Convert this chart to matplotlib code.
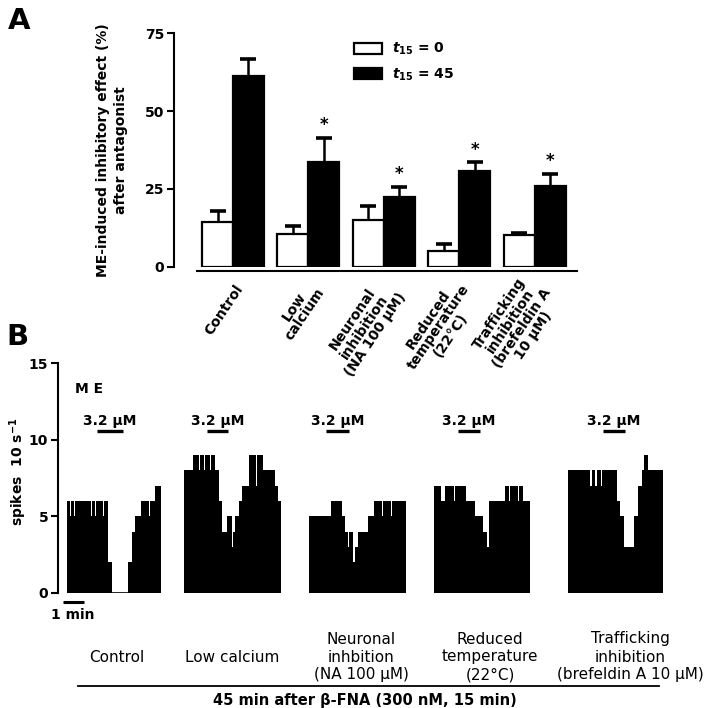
import matplotlib
matplotlib.use('Agg')
import matplotlib.pyplot as plt
from matplotlib.patches import Patch

W, H, DPI = 709, 708, 100
plt.rcParams['font.family'] = ['DejaVu Sans']
plt.rcParams['font.weight'] = 'bold'
plt.rcParams['mathtext.fontset'] = 'custom'
plt.rcParams['mathtext.rm'] = 'DejaVu Sans:bold'
plt.rcParams['mathtext.it'] = 'DejaVu Sans:bold:italic'
plt.rcParams['mathtext.bf'] = 'DejaVu Sans:bold'

# ---------------- Panel A data ----------------
conditions = ['Control', 'Low\ncalcium', 'Neuronal\ninhibition\n(NA 100 µM)',
              'Reduced\ntemperature\n(22°C)', 'Trafficking\ninhibition\n(brefeldin A\n10 µM)']
t0_mean = [14.5, 10.4, 15.0, 5.1, 10.1]
t0_sem = [3.4, 2.7, 4.6, 2.1, 0.8]
t45_mean = [61.3, 33.5, 22.3, 30.7, 25.9]
t45_sem = [5.3, 8.0, 3.3, 2.8, 4.0]
significant = [False, True, True, True, True]
series_labels = [r'$t_{\mathrm{15}}$ = 0', r'$t_{\mathrm{15}}$ = 45']
yticks_a = [0, 25, 50, 75]

# ---------------- Panel B data (spikes per 10 s, step traces) ----------------
trace_names = ['Control', 'Low calcium', 'Neuronal\ninhbition\n(NA 100 µM)',
               'Reduced\ntemperature\n(22°C)', 'Trafficking\ninhibition\n(brefeldin A 10 µM)']
control_edges = [0, 9, 12, 20, 23, 67, 70, 79, 82, 102, 105, 116, 127, 171, 181, 190, 207, 229, 232, 246, 261]
control_rate = [6, 5, 6, 5, 6, 5, 6, 5, 6, 5, 6, 2, 0, 2, 4, 5, 6, 5, 6, 7]
lowca_edges = [0, 25, 41, 44, 56, 59, 71, 74, 87, 97, 106, 119, 132, 135, 143, 152, 161, 180, 199, 202, 220, 252, 261, 269]
lowca_rate = [8, 9, 8, 9, 8, 9, 8, 9, 8, 6, 4, 5, 3, 4, 5, 6, 7, 9, 7, 9, 8, 7, 6]
neuro_edges = [0, 59, 90, 99, 107, 110, 122, 127, 134, 162, 181, 201, 204, 226, 229, 269]
neuro_rate = [5, 6, 5, 4, 3, 4, 2, 3, 4, 5, 6, 5, 6, 5, 6]
reduced_edges = [0, 20, 31, 56, 59, 87, 113, 136, 148, 151, 197, 207, 210, 233, 236, 247, 267]
reduced_rate = [7, 6, 7, 6, 7, 6, 5, 4, 3, 6, 7, 6, 7, 6, 7, 6]
traffic_edges = [0, 63, 66, 77, 80, 91, 94, 137, 145, 156, 185, 194, 205, 213, 222, 265]
traffic_rate = [8, 7, 8, 7, 8, 7, 8, 6, 5, 3, 5, 7, 8, 9, 8]
trace_start = [24, 350, 698, 1045, 1416]        # s, position on common time axis
drug_on = [85, 63, 47, 65, 97]                  # s after trace start
drug_off = [156, 123, 109, 128, 160]
drug_label = '3.2 µM'
yticks_b = [0, 5, 10, 15]

all_edges = [control_edges, lowca_edges, neuro_edges, reduced_edges, traffic_edges]
all_rates = [control_rate, lowca_rate, neuro_rate, reduced_rate, traffic_rate]


def fx(px):
    return px / W


def fy(py):
    return 1 - py / H


fig = plt.figure(figsize=(W / DPI, H / DPI), dpi=DPI)

# ================= Panel B (drawn first so panel A labels overlay) =================
px_per_s = 21.6 / 60
axB = fig.add_axes([fx(58), fy(592.7), fx(700) - fx(58), fy(363.2) - fy(592.7)])
axB.set_facecolor('none')
xmax = (700 - 58) / px_per_s
axB.set_xlim(0, xmax)
axB.set_ylim(0, 15)
for st, ed, rt, on, off in zip(trace_start, all_edges, all_rates, drug_on, drug_off):
    axB.stairs(rt, [st + e for e in ed], fill=True, color='black', baseline=0,
               linewidth=0, antialiased=False, zorder=2)
    axB.hlines(0, st + ed[0], st + ed[-1], color='black', lw=1.2, zorder=2)
    axB.plot([st + on, st + off], [10.55, 10.55], color='black', lw=2.4, solid_capstyle='butt')
    axB.text(st + (on + off) / 2, 10.95, drug_label, ha='center', va='baseline',
             fontsize=10, fontweight='bold')
axB.text(47, 13.03, 'M E', ha='left', va='baseline', fontsize=10, fontweight='bold')
axB.plot([13, 73], [-0.6, -0.6], color='black', lw=2.2, clip_on=False, solid_capstyle='butt')
axB.text(40, -1.7, '1 min', ha='center', va='baseline', fontsize=10, fontweight='bold')
axB.set_yticks(yticks_b)
axB.set_yticklabels([str(v) for v in yticks_b], fontsize=10, fontweight='bold')
axB.set_xticks([])
for sp in ['top', 'right', 'bottom']:
    axB.spines[sp].set_visible(False)
axB.spines['left'].set_linewidth(1.5)
axB.tick_params(axis='y', length=5, width=1.5, pad=2)
fig.text(fx(18), fy(472), r'spikes  10 s$^{\mathrm{-1}}$', rotation=90, ha='center', va='center',
         fontsize=10, fontweight='bold')
fig.text(fx(6), fy(345), 'B', fontsize=21, fontweight='bold', ha='left', va='baseline')

label_x = [117, 232, 361, 490, 630]
for lx, name in zip(label_x, trace_names):
    fig.text(fx(lx), fy(657), name, ha='center', va='center', multialignment='center',
             fontsize=11, fontweight='normal', linespacing=1.25)
fig.add_artist(plt.Line2D([fx(78), fx(659)], [fy(686), fy(686)], color='black', lw=1.3))
fig.text(fx(365), fy(700), '45 min after β-FNA (300 nM, 15 min)', ha='center', va='center',
         fontsize=10.5, fontweight='bold')

# ================= Panel A =================
axA = fig.add_axes([fx(174), fy(266.7), fx(576.7) - fx(174), fy(33.3) - fy(266.7)])
axA.set_facecolor('none')
bw = 0.41
xs = list(range(len(conditions)))
axA.bar([x - bw / 2 for x in xs], t0_mean, width=bw, color='white', edgecolor='black',
        linewidth=1.6, label=series_labels[0], zorder=2)
axA.bar([x + bw / 2 for x in xs], t45_mean, width=bw, color='black', edgecolor='black',
        linewidth=1.6, label=series_labels[1], zorder=2)
for off, m, s in [(-bw / 2, t0_mean, t0_sem), (bw / 2, t45_mean, t45_sem)]:
    eb = axA.errorbar([x + off for x in xs], m, yerr=[[0] * len(m), s], fmt='none',
                      ecolor='black', elinewidth=1.8, capsize=6, capthick=2.6, zorder=1)
    eb[1][0].set_visible(False)
for x, m, s, sig in zip(xs, t45_mean, t45_sem, significant):
    if sig:
        axA.text(x + bw / 2, m + s + 1.2, '*', ha='center', va='bottom', fontsize=12,
                 fontweight='bold')
axA.set_xlim(-0.7825, 4.558)
axA.set_ylim(0, 75)
axA.set_yticks(yticks_a)
axA.set_yticklabels([str(v) for v in yticks_a], fontsize=10, fontweight='bold')
axA.spines['top'].set_visible(False)
axA.spines['right'].set_visible(False)
axA.spines['left'].set_linewidth(1.5)
axA.spines['bottom'].set_linewidth(1.5)
axA.spines['bottom'].set_position(('outward', 3))
axA.spines['bottom'].set_bounds(-0.48, 4.558)
axA.tick_params(axis='y', length=5, width=1.5, pad=2)
axA.set_xticks([x + 0.1 for x in xs])
axA.set_xticklabels(conditions, rotation=56, ha='right', va='center', rotation_mode='anchor',
                    fontsize=10, fontweight='bold', multialignment='center', linespacing=0.95)
axA.tick_params(axis='x', length=0, pad=11)
fig.text(fx(112), fy(150), 'ME-induced inhibitory effect (%)\nafter antagonist', rotation=90,
         ha='center', va='center', multialignment='center', fontsize=10, fontweight='bold',
         linespacing=1.3)
handles = [Patch(facecolor='white', edgecolor='black', linewidth=1.6),
           Patch(facecolor='black', edgecolor='black', linewidth=1.6)]
fig.legend(handles, series_labels, loc='upper left', bbox_to_anchor=(fx(354), fy(41)),
           frameon=False, handlelength=2.0, handleheight=0.85,
           handletextpad=0.75, labelspacing=0.65, borderpad=0, borderaxespad=0,
           prop={'weight': 'bold', 'size': 10})
fig.text(fx(8), fy(29), 'A', fontsize=21, fontweight='bold', ha='left', va='baseline')

fig.savefig('out.png', dpi=DPI)
